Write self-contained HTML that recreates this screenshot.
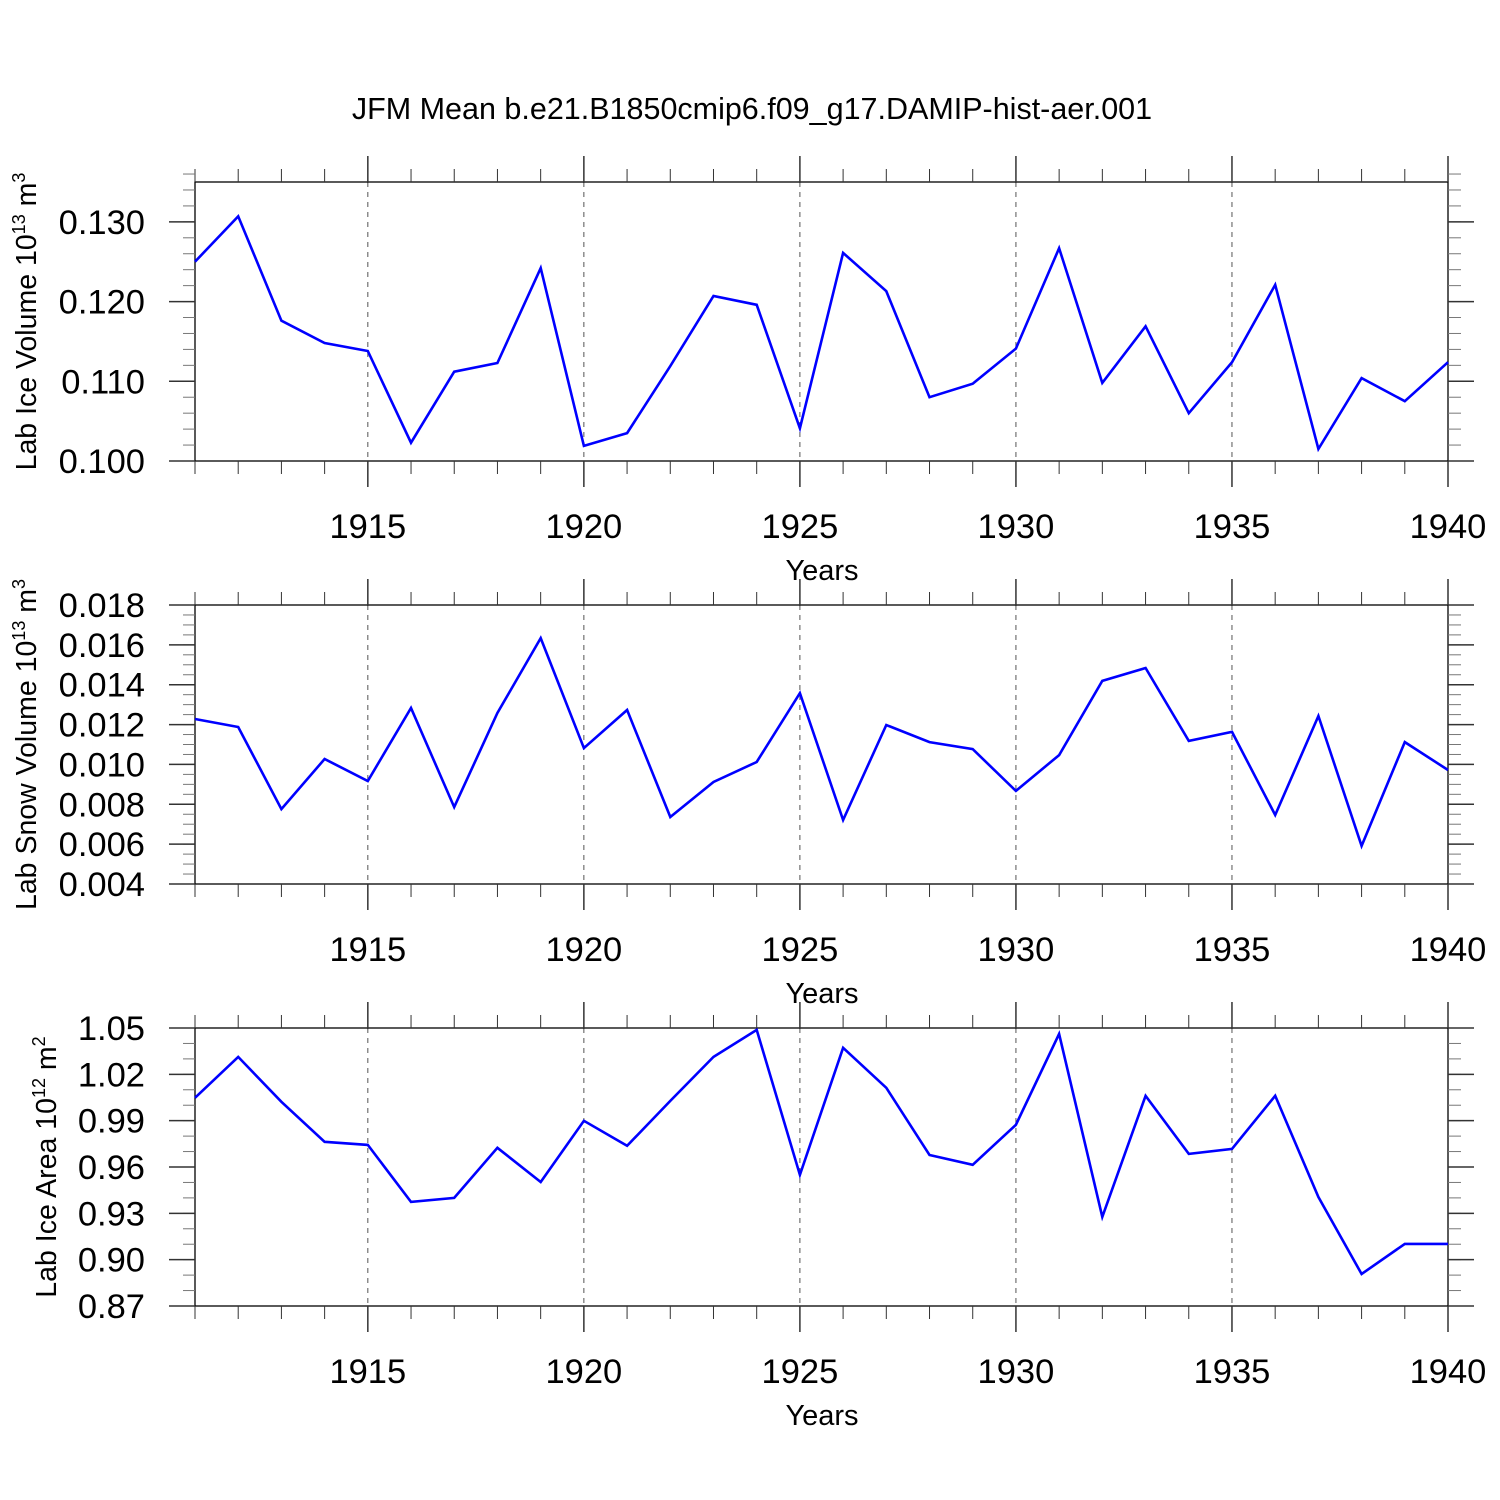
<!DOCTYPE html>
<html><head><meta charset="utf-8"><style>
html,body{margin:0;padding:0;background:#fff;}
svg{display:block;font-family:"Liberation Sans",Arial,sans-serif;}
</style></head><body>
<svg id="chart" width="1500" height="1500" viewBox="0 0 1500 1500">
<text x="752" y="119" text-anchor="middle" font-size="30.5">JFM Mean b.e21.B1850cmip6.f09_g17.DAMIP-hist-aer.001</text>
</svg>
<script>
const years = [1911,1912,1913,1914,1915,1916,1917,1918,1919,1920,1921,1922,1923,1924,1925,1926,1927,1928,1929,1930,1931,1932,1933,1934,1935,1936,1937,1938,1939,1940];
const iceVolume = [0.1250,0.1307,0.1176,0.1148,0.1138,0.1023,0.1112,0.1123,0.1242,0.1019,0.1035,0.1119,0.1207,0.1196,0.1041,0.1261,0.1213,0.1080,0.1097,0.1141,0.1267,0.1098,0.1169,0.1060,0.1124,0.1221,0.1015,0.1104,0.1075,0.1124];
const snowVolume = [0.01228,0.01188,0.00776,0.01027,0.00917,0.01283,0.00786,0.01258,0.01634,0.01082,0.01273,0.00736,0.00912,0.01012,0.01358,0.00721,0.01198,0.01112,0.01077,0.00867,0.01047,0.01419,0.01484,0.01118,0.01163,0.00746,0.01243,0.00591,0.01112,0.00972];
const iceArea = [1.0048,1.0313,1.0022,0.9763,0.9743,0.9374,0.9400,0.9724,0.9503,0.9899,0.9737,1.0028,1.0313,1.0488,0.9549,1.0372,1.0113,0.9678,0.9614,0.9873,1.0462,0.9277,1.0061,0.9685,0.9717,1.0061,0.9406,0.8907,0.9102,0.9102];
const xTickLabels = [1915,1920,1925,1930,1935,1940];
const iceVolTicks = ["0.100","0.110","0.120","0.130"];
const snowTicks = ["0.004","0.006","0.008","0.010","0.012","0.014","0.016","0.018"];
const areaTicks = ["0.87","0.90","0.93","0.96","0.99","1.02","1.05"];

const NS="http://www.w3.org/2000/svg";
const svg=document.getElementById('chart');
function el(tag,attrs,parent){const e=document.createElementNS(NS,tag);for(const k in attrs)e.setAttribute(k,attrs[k]);(parent||svg).appendChild(e);return e;}

const L=195,R=1448;
function xs(y){return L+(y-1911)*(R-L)/(1940-1911);}

const panels=[
 {name:'ice-volume',top:182,bot:461,ymin:0.100,ymax:0.135,ticks:iceVolTicks,minor:0.002,data:iceVolume,tx:36,title:['Lab Ice Volume 10','13',' m','3']},
 {name:'snow-volume',top:605,bot:884,ymin:0.004,ymax:0.018,ticks:snowTicks,minor:0.0005,data:snowVolume,tx:36,title:['Lab Snow Volume 10','13',' m','3']},
 {name:'ice-area',top:1028,bot:1306,ymin:0.87,ymax:1.05,ticks:areaTicks,minor:0.01,data:iceArea,tx:56,title:['Lab Ice Area 10','12',' m','2']}
];

panels.forEach(p=>{
 const g=el('g',{});
 
 
 const ys=v=>p.bot-(v-p.ymin)*(p.bot-p.top)/(p.ymax-p.ymin);
 xTickLabels.forEach(t=>{
  const gl=el('line',{x1:xs(t),x2:xs(t),y1:p.top,y2:p.bot,stroke:'#555','stroke-width':1,'stroke-dasharray':'5,5'},g);
  
  
 });
 const fr=el('rect',{x:L,y:p.top,width:R-L,height:p.bot-p.top,fill:'none',stroke:'#000','stroke-width':1.3},g);
 
 
 years.forEach(y=>{
  const major=xTickLabels.includes(y);
  const len=major?26:13;
  el('line',{x1:xs(y),x2:xs(y),y1:p.top,y2:p.top-len,stroke:'#333','stroke-width':major?1.5:1},g);
  el('line',{x1:xs(y),x2:xs(y),y1:p.bot,y2:p.bot+len,stroke:'#333','stroke-width':major?1.5:1},g);
 });
 xTickLabels.forEach(t=>{
  const tx=el('text',{x:xs(t),y:p.bot+77,'text-anchor':'middle','font-size':34.5},g);
  tx.textContent=t;
  
  
 });
 const xt=el('text',{x:822,y:p.bot+119,'text-anchor':'middle','font-size':29},g);
 xt.textContent='Years';
 
 
 const n=Math.round((p.ymax-p.ymin)/p.minor);
 for(let i=0;i<=n;i++){
  const yy=ys(p.ymin+i*p.minor);
  el('line',{x1:L,x2:L-12,y1:yy,y2:yy,stroke:'#777','stroke-width':1},g);
  el('line',{x1:R,x2:R+13,y1:yy,y2:yy,stroke:'#777','stroke-width':1},g);
 }
 p.ticks.forEach(t=>{
  const yy=ys(parseFloat(t));
  el('line',{x1:L,x2:L-26,y1:yy,y2:yy,stroke:'#333','stroke-width':1.5},g);
  el('line',{x1:R,x2:R+26,y1:yy,y2:yy,stroke:'#333','stroke-width':1.5},g);
  const tx=el('text',{x:145,y:yy+12,'text-anchor':'end','font-size':34.5},g);
  tx.textContent=t;
  
  
 });
 const cy=(p.top+p.bot)/2;
 const yt=el('text',{x:0,y:0,'text-anchor':'middle','font-size':28.5,transform:`translate(${p.tx},${cy}) rotate(-90)`},g);
 
 
 const parts=p.title;
 const s1=el('tspan',{},yt);s1.textContent=parts[0];
 const s2=el('tspan',{dy:-11,'font-size':18},yt);s2.textContent=parts[1];
 const s3=el('tspan',{dy:11},yt);s3.textContent=parts[2];
 const s4=el('tspan',{dy:-11,'font-size':18},yt);s4.textContent=parts[3];
 const pts=p.data.map((v,i)=>xs(years[i]).toFixed(1)+','+ys(v).toFixed(1)).join(' ');
 const line=el('polyline',{points:pts,fill:'none',stroke:'#0000ff','stroke-width':2.6,'stroke-linejoin':'miter'},g);
 
 
});
</script>
</body></html>
